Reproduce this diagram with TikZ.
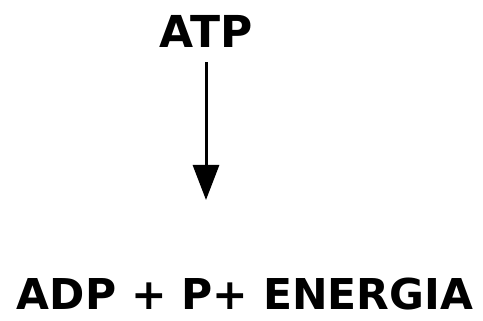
\documentclass[tikz,border=0pt]{standalone}
\usepackage{fontspec}
\setmainfont{DejaVu Sans}
\usetikzlibrary{arrows.meta, positioning}

\begin{document}
\begin{tikzpicture}[x=1pt, y=1pt,
    label text/.style={font=\fontsize{44}{48}\selectfont\bfseries, inner sep=0pt},
    reaction/.style={line width=3pt, -{Triangle[width=26pt, length=35pt]}}]
    \useasboundingbox (0,0) rectangle (483,321);
    % reactant and products
    \node[label text] (atp) at (206,290) {ATP};
    \node[label text, font=\fontsize{42.5}{46}\selectfont\bfseries] (prod) at (245,27) {ADP + P+ ENERGIA};
    \coordinate (tip) at (206,121);
    \draw[reaction] ([yshift=-15pt]atp.south) -- (tip);
  \end{tikzpicture}
\end{document}
